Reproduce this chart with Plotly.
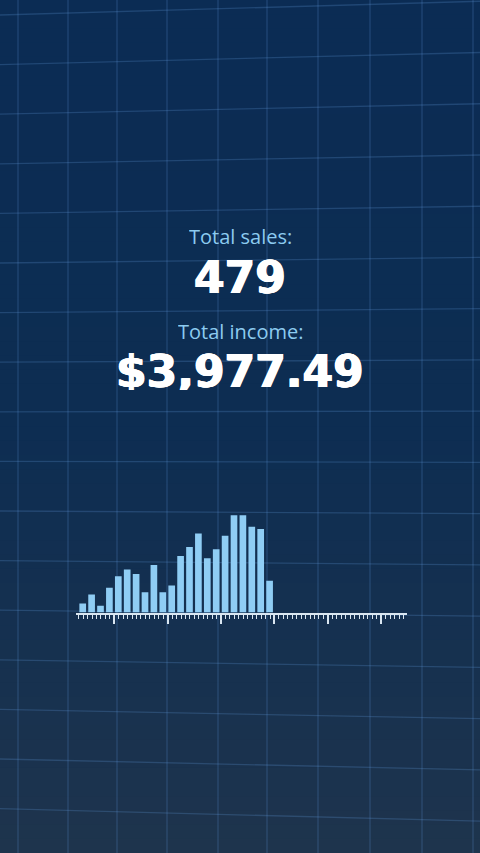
import plotly.graph_objects as go

# sales per time slot (bars)
sales_per_slot = [4, 8, 3, 11, 16, 19, 17, 9, 21, 9, 12, 25, 29, 35, 24, 28, 34, 43, 43, 38, 37, 14]
slots = list(range(len(sales_per_slot)))

sales_label = "Total sales:"
sales_total = "479"
income_label = "Total income:"
income_total = "$3,977.49"

W, H = 480, 853


def mix(c1, c2, t):
    return "rgb(%d,%d,%d)" % tuple(round(a + (b - a) * t) for a, b in zip(c1, c2))


def bg_color(f):
    # f = 0 at top, 1 at bottom
    top, mid, bot = (11, 44, 84), (13, 45, 82), (30, 52, 77)
    if f < 0.5:
        return mix(top, mid, f / 0.5)
    return mix(mid, bot, (f - 0.5) / 0.5)


shapes = []
# background gradient
n = 60
for i in range(n):
    shapes.append(dict(type="rect", xref="paper", yref="paper", layer="below",
                       x0=0, x1=1, y0=1 - (i + 1) / n - 0.001, y1=1 - i / n,
                       fillcolor=bg_color((i + 0.5) / n), line_width=0))

# perspective grid
grid_col = "rgba(95,150,215,0.25)"
for gx in [18, 68, 117, 167, 218, 267, 318, 370, 422, 473]:
    shapes.append(dict(type="line", xref="paper", yref="paper", layer="below",
                       x0=gx / W, x1=gx / W, y0=0, y1=1,
                       line=dict(color=grid_col, width=1.3)))
for k in range(17):
    yl = 15 + 49.6 * k
    yr = yl + (yl - 430) * 6.9e-5 * W
    shapes.append(dict(type="line", xref="paper", yref="paper", layer="below",
                       x0=0, x1=1, y0=1 - yl / H, y1=1 - yr / H,
                       line=dict(color=grid_col, width=1.3)))

fig = go.Figure(go.Bar(x=slots, y=sales_per_slot, width=0.75,
                       marker=dict(color="#8fcdf4", line_width=0),
                       hoverinfo="skip"))

tick_col = "#d9e6f1"
fig.update_layout(
    width=W, height=H,
    margin=dict(l=0, r=0, t=0, b=0),
    paper_bgcolor="rgb(11,44,84)",
    plot_bgcolor="rgba(0,0,0,0)",
    showlegend=False,
    shapes=shapes,
    xaxis=dict(domain=[76 / W, 407 / W], range=[-0.753, 36.44],
               showgrid=False, zeroline=False, showticklabels=False,
               showline=True, linecolor=tick_col, linewidth=1.5,
               ticks="outside", tickmode="linear", tick0=3.55, dtick=6,
               ticklen=10, tickwidth=1.5, tickcolor=tick_col,
               minor=dict(ticks="outside", tickmode="linear", tick0=-0.45, dtick=0.5,
                          ticklen=5, tickwidth=1.2, tickcolor=tick_col)),
    yaxis=dict(domain=[1 - 612.5 / H, 1 - 500 / H], range=[0, 49.8],
               visible=False),
)

label_font = dict(family="Open Sans, sans-serif", size=20, color="#8ccbf0")
# a thin white shadow thickens the bold face towards the heavy look of the original
value_font = dict(family="DejaVu Sans, sans-serif", size=44, color="white", weight="bold",
                  shadow="0.7px 0 0 white, -0.7px 0 0 white, 0 0.5px 0 white")

texts = [
    (sales_label, 236, label_font, 22),
    (sales_total, 277, value_font, 38),
    (income_label, 331, label_font, 22),
    (income_total, 371, value_font, 38),
]
for txt, ypix, font, box_h in texts:
    fig.add_annotation(text=txt, x=0.5, y=1 - ypix / H, xref="paper", yref="paper",
                       showarrow=False, font=font, yanchor="middle",
                       height=box_h, valign="middle")

# drop the page's default body margin so the figure fills the window
fig.write_html("out.html", config={"displayModeBar": False},
               post_script="document.body.style.margin='0';")
